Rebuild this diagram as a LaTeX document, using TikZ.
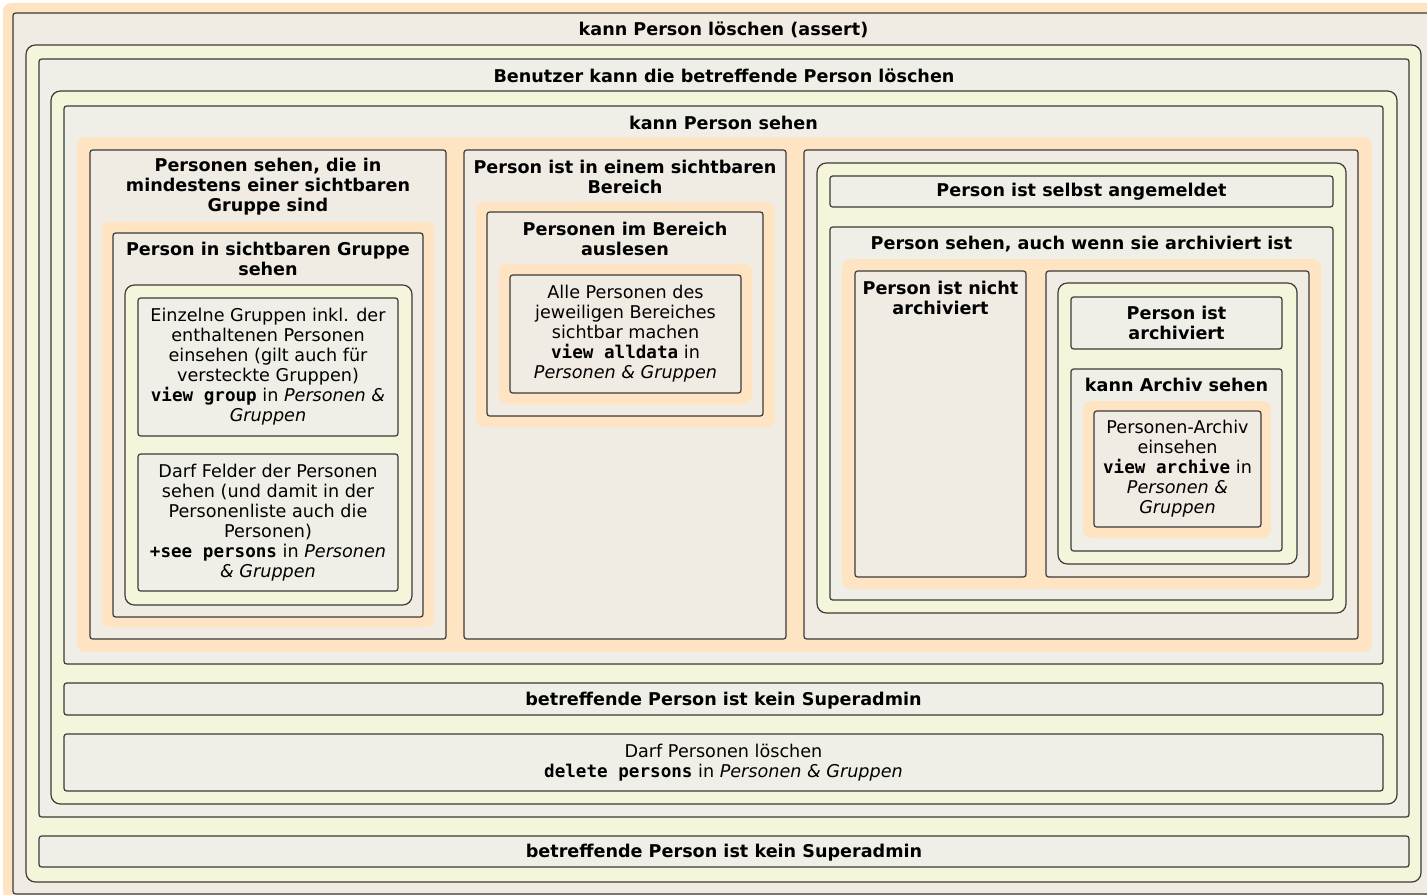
\documentclass[tikz,border=0pt]{standalone}
\usepackage{fontspec}
\setmainfont{DejaVu Sans}
\setmonofont{DejaVu Sans Mono}
\definecolor{orfill}{HTML}{FFE4C4}
\definecolor{andfill}{HTML}{F5F5DC}
\definecolor{boxfill}{HTML}{EEEEEA}
\definecolor{boxline}{HTML}{3A3A36}
\newcommand{\boxfont}{\fontsize{13.2}{15}\selectfont}
\newcommand{\perm}[1]{\texttt{\bfseries #1}}
\tikzset{
    orgroup/.style={fill=orfill,rounded corners=6pt},
    andgroup/.style={draw=boxline,fill=andfill,line width=0.9pt,rounded corners=7pt},
    cond/.style={draw=boxline,fill=boxfill,fill opacity=0.85,line width=0.9pt,rounded corners=2pt},
    title/.style={font=\boxfont\bfseries,align=center,inner sep=0pt,yshift=-1.2pt},
    leaf/.style={font=\boxfont,align=center,inner sep=0pt,yshift=-1.2pt}
}

\begin{document}
\begin{tikzpicture}[x=0.75pt,y=-0.75pt]
\clip (0,0) rectangle (1427,895);

\fill[orgroup] (3,3) rectangle (1444,904);
\draw[cond] (13,13) rectangle (1434,894);
\node[title] (assert) at (723.5,28) {kann Person löschen (assert)};

\draw[andgroup] (26,45) rectangle (1421,882);
\draw[cond] (39,59) rectangle (1409,817);
\node[title] (benutzer) at (724,74) {Benutzer kann die betreffende Person löschen};

\draw[andgroup] (51,91) rectangle (1397,804);
\draw[cond] (64,106) rectangle (1383,664);
\node[title] (sehen) at (723.5,121) {kann Person sehen};

\fill[orgroup] (77,137) rectangle (1372,652);

% left column
\draw[cond] (90,150) rectangle (446,639);
\node[title] (gruppe) at (268,185) {Personen sehen, die in\\mindestens einer sichtbaren\\Gruppe sind};
\fill[orgroup] (102,222) rectangle (434,627);
\draw[cond] (113,233) rectangle (423,617);
\node[title] (gruppesehen) at (268,257) {Person in sichtbaren Gruppe\\sehen};
\draw[andgroup] (125,285) rectangle (412,605);
\draw[cond] (138,298) rectangle (398,436);
\node[leaf] (viewgroup) at (268,365) {Einzelne Gruppen inkl. der\\enthaltenen Personen\\einsehen (gilt auch für\\versteckte Gruppen)\\\perm{view group} in \textit{Personen \&}\\\textit{Gruppen}};
\draw[cond] (138,454) rectangle (398,591);
\node[leaf] (seepersons) at (268,521) {Darf Felder der Personen\\sehen (und damit in der\\Personenliste auch die\\Personen)\\\perm{+see persons} in \textit{Personen}\\\textit{\& Gruppen}};

% middle column
\draw[cond] (464,150) rectangle (786,639);
\node[title] (bereich) at (625,175) {Person ist in einem sichtbaren\\Bereich};
\fill[orgroup] (476,202) rectangle (775,427);
\draw[cond] (487,212) rectangle (763,416);
\node[title] (auslesen) at (625,237) {Personen im Bereich\\auslesen};
\fill[orgroup] (499,264) rectangle (752,404);
\draw[cond] (510,275) rectangle (741,393);
\node[leaf] (alldata) at (625.5,332) {Alle Personen des\\jeweiligen Bereiches\\sichtbar machen\\\perm{view alldata} in\\\textit{Personen \& Gruppen}};

% right column
\draw[cond] (804,150) rectangle (1358,639);
\draw[andgroup] (817,163) rectangle (1346,613);
\draw[cond] (830,176) rectangle (1333,207);
\node[title] (angemeldet) at (1081.5,190) {Person ist selbst angemeldet};
\draw[cond] (830,227) rectangle (1333,600);
\node[title] (archiviertsehen) at (1081.5,242) {Person sehen, auch wenn sie archiviert ist};
\fill[orgroup] (842,259) rectangle (1321,589);
\draw[cond] (855,271) rectangle (1026,577);
\node[title] (nichtarch) at (940.5,296) {Person ist nicht\\archiviert};
\draw[cond] (1046,271) rectangle (1309,577);
\draw[andgroup] (1058,283) rectangle (1297,564);
\draw[cond] (1071,297) rectangle (1282,349);
\node[title] (archiviert) at (1176.5,321) {Person ist\\archiviert};
\draw[cond] (1071,369) rectangle (1282,551);
\node[title] (archivsehen) at (1176.5,383) {kann Archiv sehen};
\fill[orgroup] (1083,401) rectangle (1271,538);
\draw[cond] (1094,411) rectangle (1261,527);
\node[leaf] (viewarchive) at (1177.5,467) {Personen-Archiv\\einsehen\\\perm{view archive} in\\\textit{Personen \&}\\\textit{Gruppen}};

% bottom rows
\draw[cond] (64,683) rectangle (1383,715);
\node[title] (superadmin) at (723.5,699) {betreffende Person ist kein Superadmin};
\draw[cond] (64,734) rectangle (1383,791);
\node[leaf] (deletepersons) at (723.5,761) {Darf Personen löschen\\\perm{delete persons} in \textit{Personen \& Gruppen}};
\draw[cond] (39,836) rectangle (1409,867);
\node[title] (superadminb) at (724,851) {betreffende Person ist kein Superadmin};
\end{tikzpicture}
\end{document}
